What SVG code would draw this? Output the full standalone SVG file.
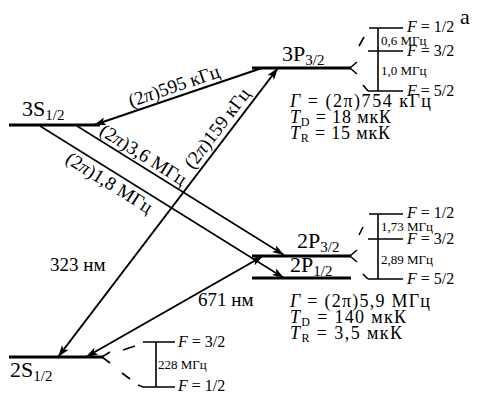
<svg xmlns="http://www.w3.org/2000/svg" width="494" height="394" viewBox="0 0 494 394">
<defs>
<marker id="ah" viewBox="0 0 12 8" refX="12" refY="4" markerWidth="12" markerHeight="8" markerUnits="userSpaceOnUse" orient="auto-start-reverse">
<path d="M0,0 L12,4 L0,8 L3,4 Z" fill="#000"/>
</marker>
</defs>
<style>
text{fill:#000}
.lvl{font-size:22px}
.lab{font-size:19px}
.par{font-size:18px}
.hf{font-size:16px}
.sm{font-size:13px}
.sub{font-size:15px}
.sub2{font-size:12px}
.it{font-style:italic}
.level{stroke:#000;stroke-width:3;fill:none}
.thin{stroke:#000;stroke-width:1.6;fill:none}
.arr{stroke:#000;stroke-width:2;fill:none}
.dec{stroke:#000;stroke-width:1.5;fill:none}
</style>
<rect width="494" height="394" fill="#fff"/>
<g font-family="'Liberation Serif', 'DejaVu Serif', serif">

<g id="level-3S">
<line class="level" x1="9" y1="125" x2="100" y2="125"/>
<text class="lvl" x="22" y="116">3S<tspan class="sub" dy="4">1/2</tspan></text>
</g>

<g id="level-3P">
<line class="level" x1="252" y1="68" x2="351" y2="68"/>
<text class="lvl" x="282" y="61">3P<tspan class="sub" dy="4">3/2</tspan></text>
<path class="thin" d="M350,68 L357,62 M350,68 L357,74 M359,46 L364,37 M363,85 L368,91"/>
<path class="thin" d="M369,28 L403,28 M368,51 L403,51 M368,91 L403,91 M378,28 L378,91"/>
<text class="hf" x="407" y="32"><tspan class="it">F</tspan> = 1/2</text>
<text class="hf" x="407" y="56"><tspan class="it">F</tspan> = 3/2</text>
<text class="hf" x="407" y="96"><tspan class="it">F</tspan> = 5/2</text>
<text class="sm" x="381" y="45">0,6 МГц</text>
<text class="sm" x="381" y="75">1,0 МГц</text>
<text class="par" x="290" y="107" textLength="141" lengthAdjust="spacing"><tspan class="it">Γ</tspan> = (2π)754 кГц</text>
<text class="par" x="290" y="123" textLength="101" lengthAdjust="spacing"><tspan class="it">T</tspan><tspan class="sub2" dy="3">D</tspan><tspan dy="-3"> = 18 мкК</tspan></text>
<text class="par" x="290" y="139" textLength="100" lengthAdjust="spacing"><tspan class="it">T</tspan><tspan class="sub2" dy="3">R</tspan><tspan dy="-3"> = 15 мкК</tspan></text>
</g>

<g id="level-2P">
<line class="level" x1="252" y1="256" x2="351" y2="256"/>
<line class="level" x1="252" y1="278" x2="351" y2="278"/>
<text class="lvl" x="297" y="248">2P<tspan class="sub" dy="4">3/2</tspan></text>
<text class="lvl" x="290" y="272">2P<tspan class="sub" dy="4">1/2</tspan></text>
<path class="thin" d="M350,256 L357,250 M350,256 L357,262 M359,235 L363,227 M363,274 L368,279"/>
<path class="thin" d="M369,214 L403,214 M368,239 L403,239 M368,279 L403,279 M378,214 L378,279"/>
<text class="hf" x="407" y="218"><tspan class="it">F</tspan> = 1/2</text>
<text class="hf" x="407" y="244"><tspan class="it">F</tspan> = 3/2</text>
<text class="hf" x="407" y="284"><tspan class="it">F</tspan> = 5/2</text>
<text class="sm" x="381" y="231">1,73 МГц</text>
<text class="sm" x="381" y="264">2,89 МГц</text>
<text class="par" x="290" y="307" textLength="140" lengthAdjust="spacing"><tspan class="it">Γ</tspan> = (2π)5,9 МГц</text>
<text class="par" x="290" y="323" textLength="116" lengthAdjust="spacing"><tspan class="it">T</tspan><tspan class="sub2" dy="3">D</tspan><tspan dy="-3"> = 140 мкК</tspan></text>
<text class="par" x="290" y="339" textLength="112" lengthAdjust="spacing"><tspan class="it">T</tspan><tspan class="sub2" dy="3">R</tspan><tspan dy="-3"> = 3,5 мкК</tspan></text>
</g>

<g id="level-2S">
<line class="level" x1="9" y1="357" x2="103" y2="357"/>
<text class="lvl" x="10" y="377">2S<tspan class="sub" dy="4">1/2</tspan></text>
<path class="thin" d="M102,357 L110,352 M102,357 L110,363 M123,350 L135,346 M122,373 L130,379 M138,385 L143,387"/>
<path class="thin" d="M143,342 L175,342 M143,387 L175,387 M156,342 L156,387"/>
<text class="hf" x="178" y="347"><tspan class="it">F</tspan> = 3/2</text>
<text class="sm" x="158" y="369">228 МГц</text>
<text class="hf" x="178" y="391"><tspan class="it">F</tspan> = 1/2</text>
</g>

<g id="connectors">
<line class="arr" x1="262" y1="68" x2="94" y2="125" marker-end="url(#ah)"/>
<line class="arr" x1="58" y1="357" x2="278" y2="68" marker-start="url(#ah)" marker-end="url(#ah)"/>
<line class="arr" x1="86" y1="357" x2="263" y2="256" marker-start="url(#ah)" marker-end="url(#ah)"/>
<line class="dec" x1="77" y1="126" x2="284" y2="255" marker-end="url(#ah)"/>
<line class="dec" x1="40" y1="126" x2="284" y2="278" marker-end="url(#ah)"/>
</g>

<g id="labels">
<text class="lab" text-anchor="middle" transform="translate(176,92) rotate(-18.8)">(2<tspan class="it">π</tspan>)595 кГц</text>
<text class="lab" text-anchor="middle" transform="translate(222,132) rotate(-52.7)">(2<tspan class="it">π</tspan>)159 кГц</text>
<text class="lab" text-anchor="middle" transform="translate(140,160) rotate(32)">(2<tspan class="it">π</tspan>)3,6 МГц</text>
<text class="lab" text-anchor="middle" transform="translate(106,188) rotate(32)">(2<tspan class="it">π</tspan>)1,8 МГц</text>
<text class="lab" x="50" y="271">323 нм</text>
<text class="lab" x="198" y="306">671 нм</text>
<text class="lvl" x="460" y="24">а</text>
</g>
</g>
</svg>
